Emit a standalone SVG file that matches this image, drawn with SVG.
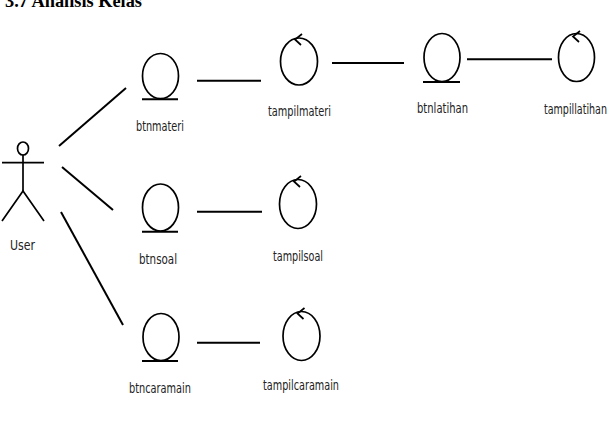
<svg xmlns="http://www.w3.org/2000/svg" width="608" height="423" viewBox="0 0 608 423">
<style>
.s{fill:none;stroke:#000;stroke-width:2}
.c{fill:none;stroke:#000;stroke-width:1.7}
.l{font-family:"DejaVu Sans Condensed","DejaVu Sans",sans-serif;font-size:14.5px;fill:#222}
.t{font-family:"Liberation Serif","Times New Roman",serif;font-size:18px;font-weight:bold;fill:#000}
</style>
<rect width="608" height="423" fill="#fff"/>
<text class="t" x="5" y="7" textLength="137" lengthAdjust="spacingAndGlyphs">3.7 Analisis Kelas</text>
<g id="connectors" class="s">
<line x1="59" y1="146" x2="126" y2="88"/>
<line x1="62" y1="167" x2="113" y2="210"/>
<line x1="61" y1="212" x2="123" y2="325"/>
<line x1="197" y1="80.7" x2="261" y2="80.7"/>
<line x1="332" y1="63" x2="404" y2="63"/>
<line x1="467" y1="59.3" x2="552" y2="59.3"/>
<line x1="197" y1="211.7" x2="262" y2="211.7"/>
<line x1="197" y1="342.7" x2="260" y2="342.7"/>
</g>
<g id="user">
<ellipse class="c" cx="23" cy="148.5" rx="5.5" ry="6.5"/>
<line class="c" x1="2" y1="162.7" x2="44" y2="162.7"/>
<line class="c" x1="23" y1="155" x2="23" y2="191"/>
<polyline class="c" points="2,221 23,191 44,221"/>
<text class="l" x="10" y="250" textLength="25" lengthAdjust="spacingAndGlyphs">User</text>
</g>
<g id="btnmateri">
<ellipse class="c" cx="160.5" cy="76" rx="18" ry="22.5"/>
<line class="s" x1="142" y1="99.3" x2="178" y2="99.3"/>
<text class="l" x="136" y="131" textLength="48" lengthAdjust="spacingAndGlyphs">btnmateri</text>
</g>
<g id="tampilmateri">
<ellipse class="c" cx="299" cy="61.5" rx="18.5" ry="23.5"/>
<polyline class="c" points="302,34 295,39.5 301,45"/>
<text class="l" x="268" y="116" textLength="63" lengthAdjust="spacingAndGlyphs">tampilmateri</text>
</g>
<g id="btnlatihan">
<ellipse class="c" cx="442" cy="57.5" rx="18" ry="24"/>
<line class="s" x1="423" y1="82" x2="460" y2="82"/>
<text class="l" x="417" y="113" textLength="51" lengthAdjust="spacingAndGlyphs">btnlatihan</text>
</g>
<g id="tampillatihan">
<ellipse class="c" cx="576.5" cy="57.5" rx="18" ry="24"/>
<polyline class="c" points="580,31 573,36.5 579,42"/>
<text class="l" x="544" y="114" textLength="63" lengthAdjust="spacingAndGlyphs">tampillatihan</text>
</g>
<g id="btnsoal">
<ellipse class="c" cx="160.5" cy="207.5" rx="18" ry="23.5"/>
<line class="s" x1="142" y1="231.7" x2="178" y2="231.7"/>
<text class="l" x="139" y="264" textLength="38" lengthAdjust="spacingAndGlyphs">btnsoal</text>
</g>
<g id="tampilsoal">
<ellipse class="c" cx="298" cy="204" rx="18.5" ry="24.5"/>
<polyline class="c" points="301,176 294,181.5 300,187"/>
<text class="l" x="273" y="261" textLength="50" lengthAdjust="spacingAndGlyphs">tampilsoal</text>
</g>
<g id="btncaramain">
<ellipse class="c" cx="161" cy="337" rx="18" ry="23.5"/>
<line class="s" x1="142" y1="361" x2="178" y2="361"/>
<text class="l" x="129" y="393" textLength="62" lengthAdjust="spacingAndGlyphs">btncaramain</text>
</g>
<g id="tampilcaramain">
<ellipse class="c" cx="301.5" cy="336" rx="18.5" ry="24.5"/>
<polyline class="c" points="304.5,308 297.5,313.5 303.5,319"/>
<text class="l" x="263" y="390" textLength="76" lengthAdjust="spacingAndGlyphs">tampilcaramain</text>
</g>
</svg>
